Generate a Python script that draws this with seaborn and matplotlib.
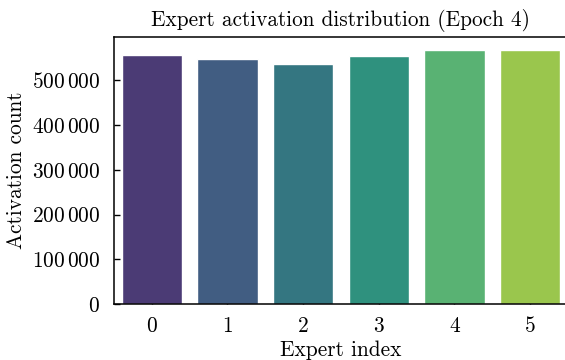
import matplotlib
matplotlib.use("Agg")
import matplotlib.pyplot as plt
from matplotlib.ticker import FuncFormatter
import seaborn as sns
import pandas as pd

experts = ["0", "1", "2", "3", "4", "5"]
activations = [557600, 548600, 535900, 554600, 568800, 568500]

sns.set_style("ticks")
plt.rcParams.update({
    "font.family": "serif",
    "font.serif": ["cmr10"],
    "mathtext.fontset": "cm",
    "axes.formatter.use_mathtext": True,
    "font.size": 15.4,
    "axes.titlesize": 15.3,
    "axes.labelsize": 15.4,
    "axes.linewidth": 1.1,
    "xtick.direction": "in",
    "ytick.direction": "in",
    "xtick.major.size": 4,
    "ytick.major.size": 4,
    "xtick.major.width": 1.0,
    "ytick.major.width": 1.0,
    "axes.edgecolor": "black",
    "xtick.color": "black",
    "ytick.color": "black",
    "text.color": "black",
    "axes.labelcolor": "black",
})

df = pd.DataFrame({"expert": experts, "count": activations})

fig = plt.figure(figsize=(5.65, 3.6), dpi=100)
ax = fig.add_axes([114 / 565, 56 / 360, 454 / 565, 267 / 360])

sns.barplot(data=df, x="expert", y="count", hue="expert",
            palette=sns.color_palette("viridis", len(experts)),
            legend=False, ax=ax)

ax.set_ylim(0, max(activations) * 1.05)
ax.spines["right"].set_visible(False)
ax.yaxis.set_major_formatter(
    FuncFormatter(lambda v, _: "$" + f"{int(v):,}".replace(",", r"\,") + "$"))
ax.set_xlabel("Expert index", labelpad=3)
ax.set_ylabel("Activation count", labelpad=4)
ax.set_title("Expert activation distribution (Epoch 4)", pad=8)
ax.tick_params(axis="y", pad=10)
ax.tick_params(axis="x", pad=9)

fig.savefig("out.png", dpi=100)
